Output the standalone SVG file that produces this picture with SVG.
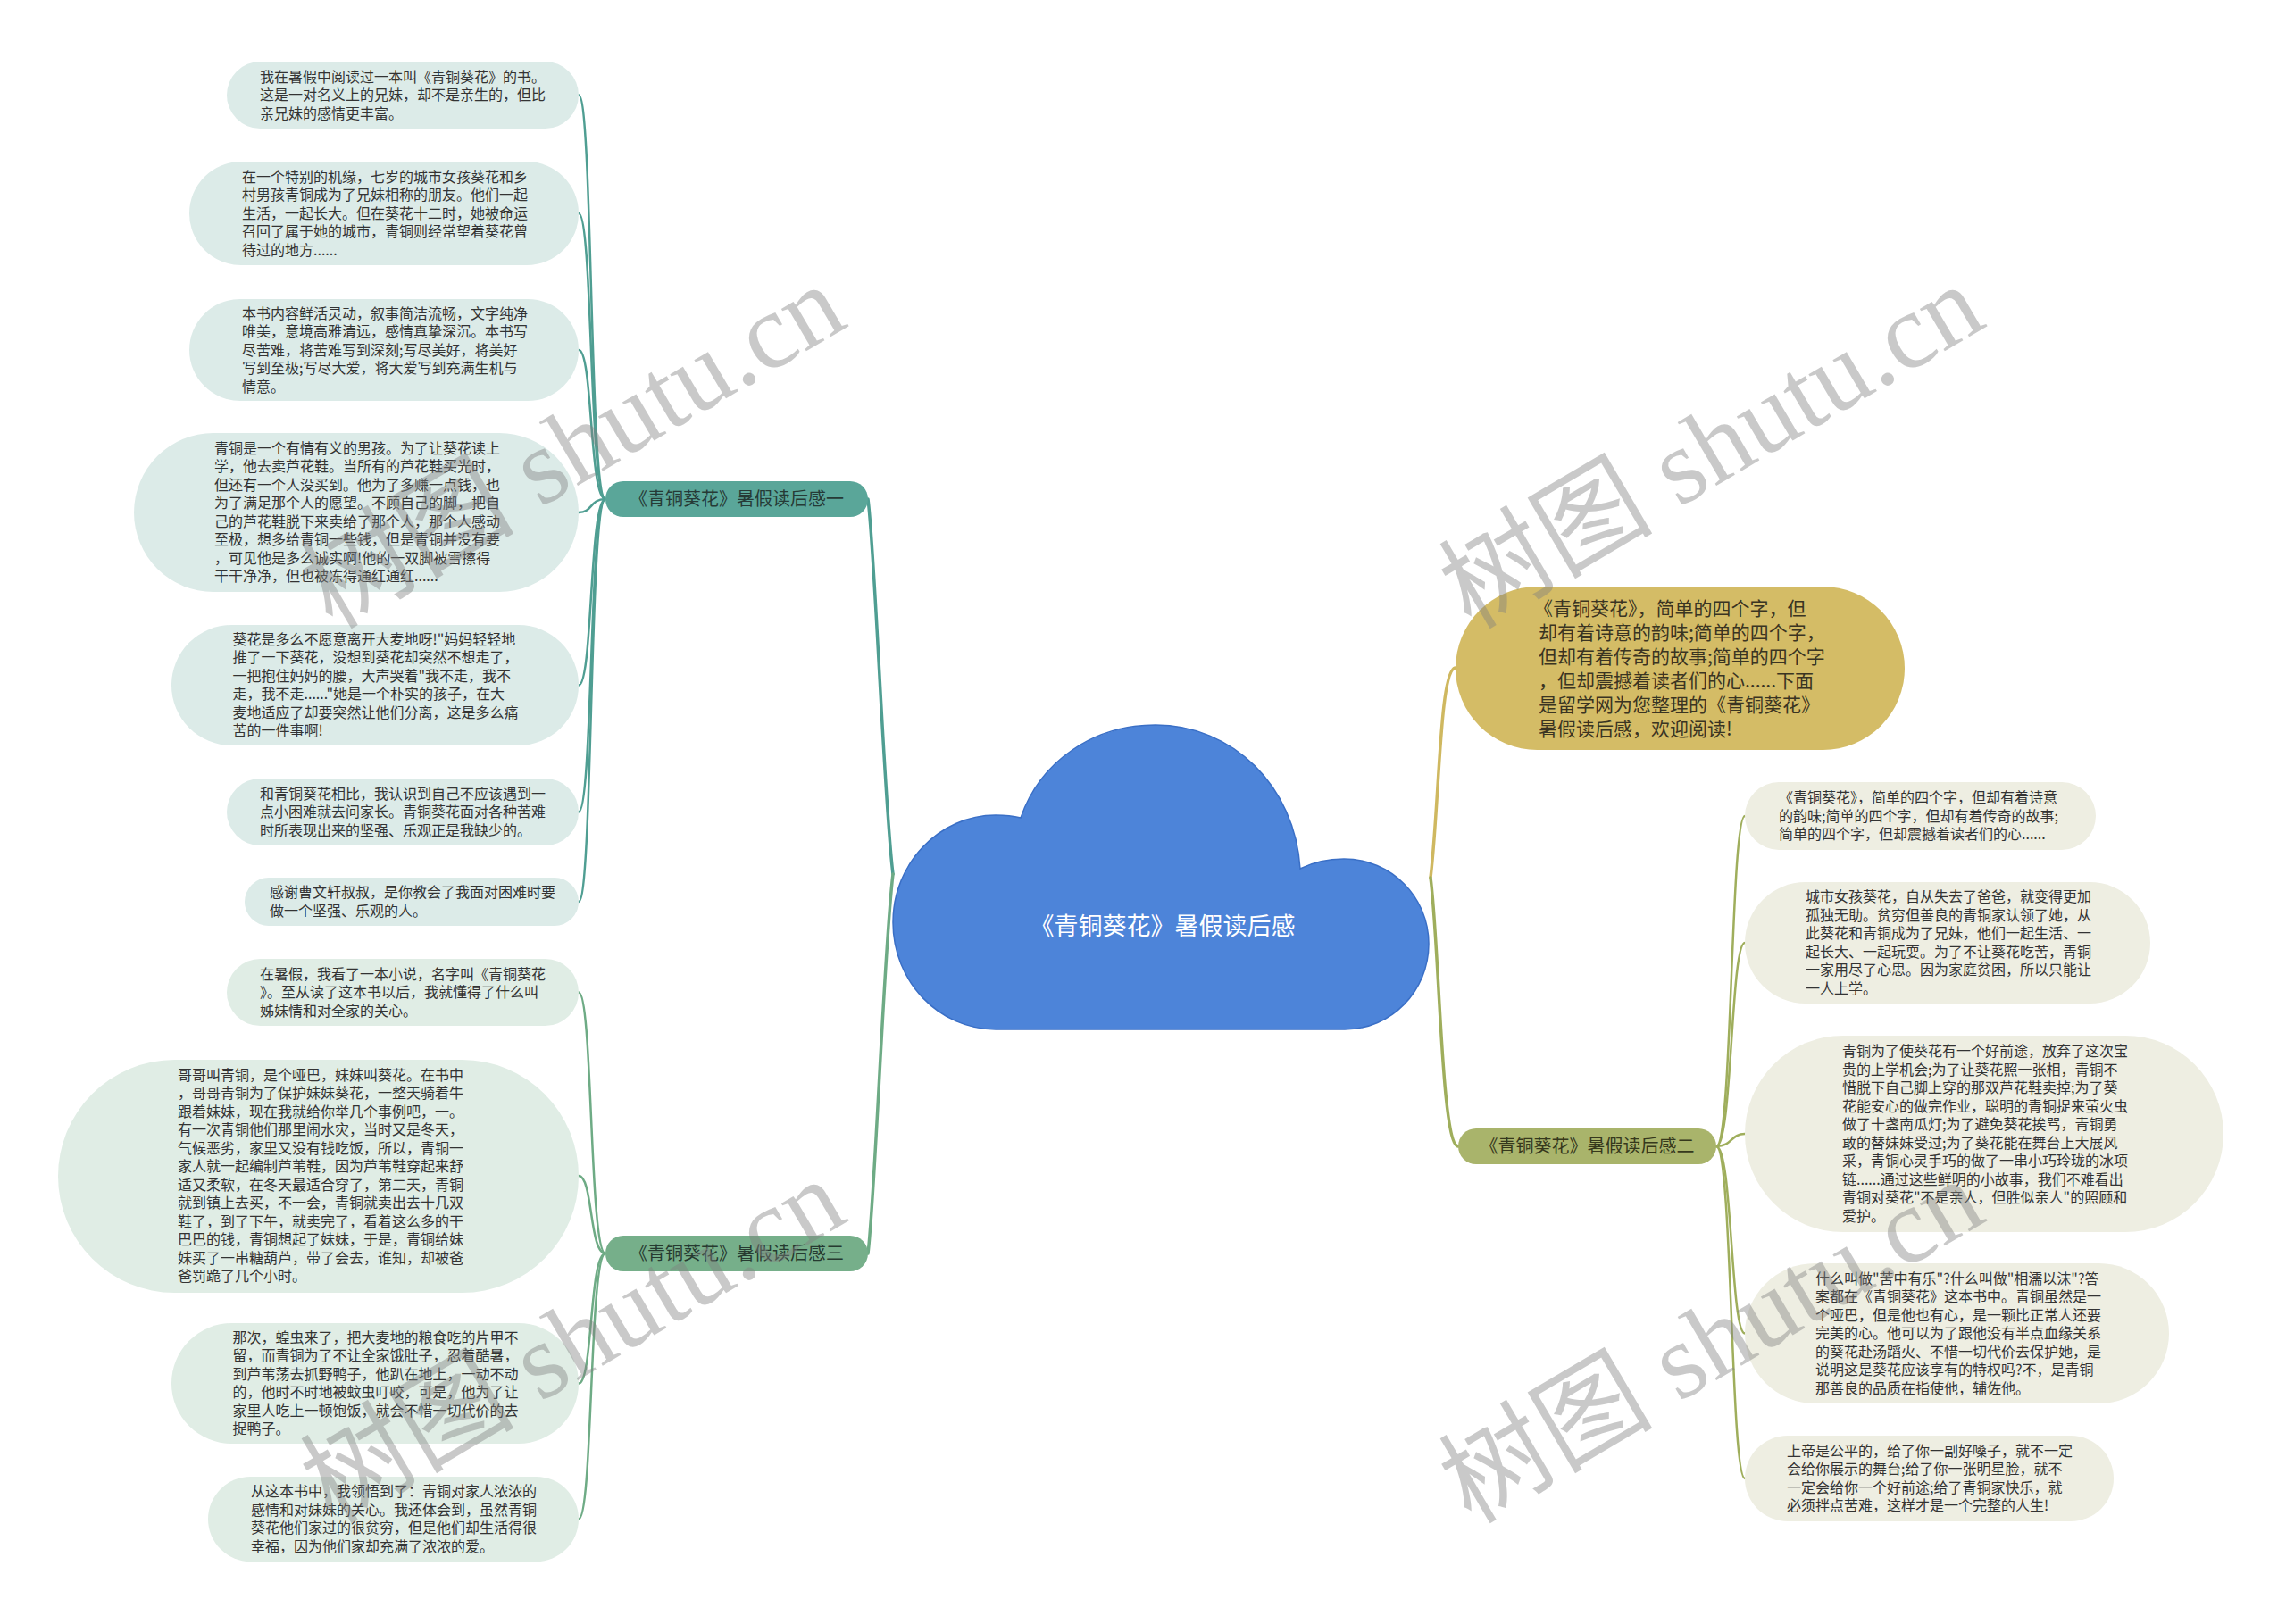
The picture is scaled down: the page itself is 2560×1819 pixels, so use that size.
<svg xmlns="http://www.w3.org/2000/svg" width="2560" height="1819" viewBox="0 0 2560 1819">
<style>
.t{font-family:"Noto Sans CJK SC","Liberation Sans",sans-serif;font-size:16px;fill:#333}
.g{font-family:"Noto Sans CJK SC","Liberation Sans",sans-serif;font-size:21px;fill:#3a3422}
.b{font-family:"Noto Sans CJK SC","Liberation Sans",sans-serif;font-size:20px;text-anchor:middle}
.c{font-family:"Noto Sans CJK SC","Liberation Sans",sans-serif;font-size:27px;fill:#fff;text-anchor:middle}
.la{fill:#dcebe8}
.lb{fill:#e0ede5}
.lc{fill:#eeeee2}
.e{fill:none;stroke-linecap:round}
.e1{stroke:#4f9e92;stroke-width:2.5}
.e3{stroke:#6eab85;stroke-width:2.5}
.e2{stroke:#9fae5c;stroke-width:2.5}
.eg{stroke:#cfb860;stroke-width:3}
.wm{font-family:"Liberation Serif","Noto Sans CJK SC",serif;font-size:120px;fill:#808080;opacity:0.42}
</style>
<rect width="2560" height="1819" fill="#fff"/>
<g id="connectors">
<path class="e e1" d="M1000,979 C990,900 980,620 972,559" style="stroke-width:3.5"/>
<path class="e e3" d="M1000,979 C990,1060 980,1340 972,1404" style="stroke-width:3.5"/>
<path class="e eg" d="M1602,983 C1612,900 1612,748 1630,748" style="stroke-width:3.5"/>
<path class="e e2" d="M1602,983 C1612,1060 1614,1284 1633,1284" style="stroke-width:3.5"/>
<path class="e e1" d="M678,559 C660,559 664,106.5 648,106.5"/>
<path class="e e1" d="M678,559 C660,559 664,239 648,239"/>
<path class="e e1" d="M678,559 C660,559 664,392 648,392"/>
<path class="e e1" d="M678,559 C660,559 664,574 648,574"/>
<path class="e e1" d="M678,559 C660,559 664,767.5 648,767.5"/>
<path class="e e1" d="M678,559 C660,559 664,909.5 648,909.5"/>
<path class="e e1" d="M678,559 C660,559 664,1010 648,1010"/>
<path class="e e3" d="M678,1404 C660,1404 664,1111.5 648,1111.5"/>
<path class="e e3" d="M678,1404 C660,1404 664,1317 648,1317"/>
<path class="e e3" d="M678,1404 C660,1404 664,1549.5 648,1549.5"/>
<path class="e e3" d="M678,1404 C660,1404 664,1701.5 648,1701.5"/>
<path class="e e2" d="M1922,1284 C1940,1284 1938,914 1954,914"/>
<path class="e e2" d="M1922,1284 C1940,1284 1938,1056 1954,1056"/>
<path class="e e2" d="M1922,1284 C1940,1284 1938,1270 1954,1270"/>
<path class="e e2" d="M1922,1284 C1940,1284 1938,1493.5 1954,1493.5"/>
<path class="e e2" d="M1922,1284 C1940,1284 1938,1656 1954,1656"/>
</g>
<g id="root">
<path d="M1115,1153 C1052,1153 1000,1100 1000,1033 C1000,967 1052,913 1115,913 C1125,913 1135,914 1143,916 C1165,852 1225,812 1294,812 C1380,812 1450,880 1456,973 C1470,966 1487,962 1505,962 C1558,962 1600,1005 1600,1057 C1600,1110 1558,1153 1506,1153 Z" fill="#4d84d9" stroke="#3a6fc6" stroke-width="1.5"/>
<text class="c" x="1302" y="1047">《青铜葵花》暑假读后感</text>
</g>
<g id="branch1">
<rect x="678" y="539" width="294" height="40" rx="20" fill="#5aa699"/>
<text class="b" x="825" y="566" fill="#263a36">《青铜葵花》暑假读后感一</text>
</g>
<g id="branch3">
<rect x="678" y="1384" width="294" height="40" rx="20" fill="#76af8a"/>
<text class="b" x="825" y="1411" fill="#263a30">《青铜葵花》暑假读后感三</text>
</g>
<g id="branch2">
<rect x="1633" y="1264" width="289" height="40" rx="20" fill="#a9b46b"/>
<text class="b" x="1777.5" y="1291" fill="#36381c">《青铜葵花》暑假读后感二</text>
</g>
<g id="intro">
<rect x="1630" y="657" width="503" height="183" rx="91.5" fill="#d4bc66"/>
<text class="g" x="1718" y="688.5"><tspan x="1718">《青铜葵花》，简单的四个字，但</tspan><tspan x="1723" dy="27">却有着诗意的韵味;简单的四个字，</tspan><tspan x="1723" dy="27">但却有着传奇的故事;简单的四个字</tspan><tspan x="1723" dy="27">，但却震撼着读者们的心......下面</tspan><tspan x="1723" dy="27">是留学网为您整理的《青铜葵花》</tspan><tspan x="1723" dy="27">暑假读后感，欢迎阅读!</tspan></text>
</g>
<g id="leaf1-1">
<rect class="la" x="254" y="69" width="394" height="75" rx="37.5"/>
<text class="t" y="91.5"><tspan x="291">我在暑假中阅读过一本叫《青铜葵花》的书。</tspan><tspan x="291" dy="20.5">这是一对名义上的兄妹，却不是亲生的，但比</tspan><tspan x="291" dy="20.5">亲兄妹的感情更丰富。</tspan></text>
</g>
<g id="leaf1-2">
<rect class="la" x="212" y="181" width="436" height="116" rx="58"/>
<text class="t" y="203.5"><tspan x="271">在一个特别的机缘，七岁的城市女孩葵花和乡</tspan><tspan x="271" dy="20.5">村男孩青铜成为了兄妹相称的朋友。他们一起</tspan><tspan x="271" dy="20.5">生活，一起长大。但在葵花十二时，她被命运</tspan><tspan x="271" dy="20.5">召回了属于她的城市，青铜则经常望着葵花曾</tspan><tspan x="271" dy="20.5">待过的地方......</tspan></text>
</g>
<g id="leaf1-3">
<rect class="la" x="212" y="335" width="436" height="114" rx="57"/>
<text class="t" y="356.5"><tspan x="271">本书内容鲜活灵动，叙事简洁流畅，文字纯净</tspan><tspan x="271" dy="20.5">唯美，意境高雅清远，感情真挚深沉。本书写</tspan><tspan x="271" dy="20.5">尽苦难，将苦难写到深刻;写尽美好，将美好</tspan><tspan x="271" dy="20.5">写到至极;写尽大爱，将大爱写到充满生机与</tspan><tspan x="271" dy="20.5">情意。</tspan></text>
</g>
<g id="leaf1-4">
<rect class="la" x="150" y="485" width="498" height="178" rx="89"/>
<text class="t" y="507.75"><tspan x="240">青铜是一个有情有义的男孩。为了让葵花读上</tspan><tspan x="240" dy="20.5">学，他去卖芦花鞋。当所有的芦花鞋买光时，</tspan><tspan x="240" dy="20.5">但还有一个人没买到。他为了多赚一点钱，也</tspan><tspan x="240" dy="20.5">为了满足那个人的愿望。不顾自己的脚，把自</tspan><tspan x="240" dy="20.5">己的芦花鞋脱下来卖给了那个人，那个人感动</tspan><tspan x="240" dy="20.5">至极，想多给青铜一些钱，但是青铜并没有要</tspan><tspan x="240" dy="20.5">，可见他是多么诚实啊!他的一双脚被雪擦得</tspan><tspan x="240" dy="20.5">干干净净，但也被冻得通红通红......</tspan></text>
</g>
<g id="leaf1-5">
<rect class="la" x="192" y="700" width="456" height="135" rx="67.5"/>
<text class="t" y="721.75"><tspan x="260.5">葵花是多么不愿意离开大麦地呀!"妈妈轻轻地</tspan><tspan x="260.5" dy="20.5">推了一下葵花，没想到葵花却突然不想走了，</tspan><tspan x="260.5" dy="20.5">一把抱住妈妈的腰，大声哭着"我不走，我不</tspan><tspan x="260.5" dy="20.5">走，我不走......"她是一个朴实的孩子，在大</tspan><tspan x="260.5" dy="20.5">麦地适应了却要突然让他们分离，这是多么痛</tspan><tspan x="260.5" dy="20.5">苦的一件事啊!</tspan></text>
</g>
<g id="leaf1-6">
<rect class="la" x="254" y="872" width="394" height="75" rx="37.5"/>
<text class="t" y="894.5"><tspan x="291">和青铜葵花相比，我认识到自己不应该遇到一</tspan><tspan x="291" dy="20.5">点小困难就去问家长。青铜葵花面对各种苦难</tspan><tspan x="291" dy="20.5">时所表现出来的坚强、乐观正是我缺少的。</tspan></text>
</g>
<g id="leaf1-7">
<rect class="la" x="274" y="983" width="374" height="54" rx="27"/>
<text class="t" y="1005.25"><tspan x="302">感谢曹文轩叔叔，是你教会了我面对困难时要</tspan><tspan x="302" dy="20.5">做一个坚强、乐观的人。</tspan></text>
</g>
<g id="leaf3-1">
<rect class="lb" x="254" y="1074" width="394" height="75" rx="37.5"/>
<text class="t" y="1096.5"><tspan x="291">在暑假，我看了一本小说，名字叫《青铜葵花</tspan><tspan x="291" dy="20.5">》。至从读了这本书以后，我就懂得了什么叫</tspan><tspan x="291" dy="20.5">姊妹情和对全家的关心。</tspan></text>
</g>
<g id="leaf3-2">
<rect class="lb" x="65" y="1187" width="583" height="261" rx="130.5"/>
<text class="t" y="1209.75"><tspan x="199">哥哥叫青铜，是个哑巴，妹妹叫葵花。在书中</tspan><tspan x="199" dy="20.5">，哥哥青铜为了保护妹妹葵花，一整天骑着牛</tspan><tspan x="199" dy="20.5">跟着妹妹，现在我就给你举几个事例吧，一。</tspan><tspan x="199" dy="20.5">有一次青铜他们那里闹水灾，当时又是冬天，</tspan><tspan x="199" dy="20.5">气候恶劣，家里又没有钱吃饭，所以，青铜一</tspan><tspan x="199" dy="20.5">家人就一起编制芦苇鞋，因为芦苇鞋穿起来舒</tspan><tspan x="199" dy="20.5">适又柔软，在冬天最适合穿了，第二天，青铜</tspan><tspan x="199" dy="20.5">就到镇上去买，不一会，青铜就卖出去十几双</tspan><tspan x="199" dy="20.5">鞋了，到了下午，就卖完了，看着这么多的干</tspan><tspan x="199" dy="20.5">巴巴的钱，青铜想起了妹妹，于是，青铜给妹</tspan><tspan x="199" dy="20.5">妹买了一串糖葫芦，带了会去，谁知，却被爸</tspan><tspan x="199" dy="20.5">爸罚跪了几个小时。</tspan></text>
</g>
<g id="leaf3-3">
<rect class="lb" x="192" y="1482" width="456" height="135" rx="67.5"/>
<text class="t" y="1503.75"><tspan x="260.5">那次，蝗虫来了，把大麦地的粮食吃的片甲不</tspan><tspan x="260.5" dy="20.5">留，而青铜为了不让全家饿肚子，忍着酷暑，</tspan><tspan x="260.5" dy="20.5">到芦苇荡去抓野鸭子，他趴在地上，一动不动</tspan><tspan x="260.5" dy="20.5">的，他时不时地被蚊虫叮咬，可是，他为了让</tspan><tspan x="260.5" dy="20.5">家里人吃上一顿饱饭，就会不惜一切代价的去</tspan><tspan x="260.5" dy="20.5">捉鸭子。</tspan></text>
</g>
<g id="leaf3-4">
<rect class="lb" x="233" y="1654" width="415" height="95" rx="47.5"/>
<text class="t" y="1676.25"><tspan x="281">从这本书中，我领悟到了：青铜对家人浓浓的</tspan><tspan x="281" dy="20.5">感情和对妹妹的关心。我还体会到，虽然青铜</tspan><tspan x="281" dy="20.5">葵花他们家过的很贫穷，但是他们却生活得很</tspan><tspan x="281" dy="20.5">幸福，因为他们家却充满了浓浓的爱。</tspan></text>
</g>
<g id="leaf2-1">
<rect class="lc" x="1954" y="876" width="393" height="76" rx="38"/>
<text class="t" y="899"><tspan x="1992">《青铜葵花》，简单的四个字，但却有着诗意</tspan><tspan x="1992" dy="20.5">的韵味;简单的四个字，但却有着传奇的故事;</tspan><tspan x="1992" dy="20.5">简单的四个字，但却震撼着读者们的心......</tspan></text>
</g>
<g id="leaf2-2">
<rect class="lc" x="1954" y="988" width="454" height="136" rx="68"/>
<text class="t" y="1010.25"><tspan x="2022">城市女孩葵花，自从失去了爸爸，就变得更加</tspan><tspan x="2022" dy="20.5">孤独无助。贫穷但善良的青铜家认领了她，从</tspan><tspan x="2022" dy="20.5">此葵花和青铜成为了兄妹，他们一起生活、一</tspan><tspan x="2022" dy="20.5">起长大、一起玩耍。为了不让葵花吃苦，青铜</tspan><tspan x="2022" dy="20.5">一家用尽了心思。因为家庭贫困，所以只能让</tspan><tspan x="2022" dy="20.5">一人上学。</tspan></text>
</g>
<g id="leaf2-3">
<rect class="lc" x="1954" y="1160" width="536" height="220" rx="110"/>
<text class="t" y="1183.25"><tspan x="2063">青铜为了使葵花有一个好前途，放弃了这次宝</tspan><tspan x="2063" dy="20.5">贵的上学机会;为了让葵花照一张相，青铜不</tspan><tspan x="2063" dy="20.5">惜脱下自己脚上穿的那双芦花鞋卖掉;为了葵</tspan><tspan x="2063" dy="20.5">花能安心的做完作业，聪明的青铜捉来萤火虫</tspan><tspan x="2063" dy="20.5">做了十盏南瓜灯;为了避免葵花挨骂，青铜勇</tspan><tspan x="2063" dy="20.5">敢的替妹妹受过;为了葵花能在舞台上大展风</tspan><tspan x="2063" dy="20.5">采，青铜心灵手巧的做了一串小巧玲珑的冰项</tspan><tspan x="2063" dy="20.5">链......通过这些鲜明的小故事，我们不难看出</tspan><tspan x="2063" dy="20.5">青铜对葵花"不是亲人，但胜似亲人"的照顾和</tspan><tspan x="2063" dy="20.5">爱护。</tspan></text>
</g>
<g id="leaf2-4">
<rect class="lc" x="1954" y="1415" width="475" height="157" rx="78.5"/>
<text class="t" y="1437.5"><tspan x="2033">什么叫做"苦中有乐"?什么叫做"相濡以沫"?答</tspan><tspan x="2033" dy="20.5">案都在《青铜葵花》这本书中。青铜虽然是一</tspan><tspan x="2033" dy="20.5">个哑巴，但是他也有心，是一颗比正常人还要</tspan><tspan x="2033" dy="20.5">完美的心。他可以为了跟他没有半点血缘关系</tspan><tspan x="2033" dy="20.5">的葵花赴汤蹈火、不惜一切代价去保护她，是</tspan><tspan x="2033" dy="20.5">说明这是葵花应该享有的特权吗?不，是青铜</tspan><tspan x="2033" dy="20.5">那善良的品质在指使他，辅佐他。</tspan></text>
</g>
<g id="leaf2-5">
<rect class="lc" x="1954" y="1608" width="413" height="96" rx="48"/>
<text class="t" y="1630.75"><tspan x="2001">上帝是公平的，给了你一副好嗓子，就不一定</tspan><tspan x="2001" dy="20.5">会给你展示的舞台;给了你一张明星脸，就不</tspan><tspan x="2001" dy="20.5">一定会给你一个好前途;给了青铜家快乐，就</tspan><tspan x="2001" dy="20.5">必须拌点苦难，这样才是一个完整的人生!</tspan></text>
</g>
<g id="watermarks">
<text class="wm" transform="translate(372,706) rotate(-30.5)">树图 shutu.cn</text>
<text class="wm" transform="translate(1647,706) rotate(-30.5)">树图 shutu.cn</text>
<text class="wm" transform="translate(372,1708) rotate(-30.5)">树图 shutu.cn</text>
<text class="wm" transform="translate(1647,1708) rotate(-30.5)">树图 shutu.cn</text>
</g>
</svg>
